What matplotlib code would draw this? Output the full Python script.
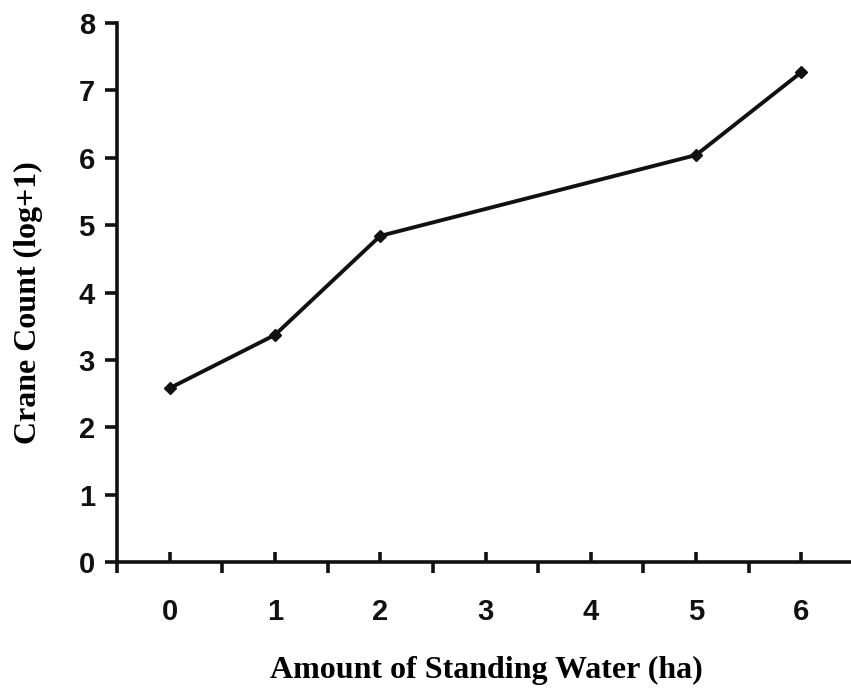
import numpy as np
import matplotlib.pyplot as plt

# data
water = [0, 1, 2, 5, 6]
cranes = [2.58, 3.37, 4.84, 6.04, 7.27]
xticks = [0, 1, 2, 3, 4, 5, 6]
yticks = [0, 1, 2, 3, 4, 5, 6, 7, 8]

fig = plt.figure(figsize=(8.51, 6.94), dpi=100)
ax = fig.add_axes([117/851, 1-562/694, (854-117)/851, (562-23)/694])

ax.plot(water, cranes, color='#111111', lw=2.8, marker='D', ms=6, solid_joinstyle='miter')

ax.set_xlim(-0.5, 6.5)
ax.set_ylim(0, 8)
for s in ['top', 'right']:
    ax.spines[s].set_visible(False)
ax.spines['left'].set_linewidth(2.6)
ax.spines['bottom'].set_linewidth(2.6)
ax.spines['left'].set_color('#111111')
ax.spines['bottom'].set_color('#111111')

tickfont = dict(family='Liberation Sans', weight='bold', size=21)
ax.set_yticks(yticks)
ax.set_yticklabels([str(v) for v in yticks], **tickfont)
ax.set_xticks(xticks)
ax.set_xticklabels([str(v) for v in xticks], **tickfont)
ax.tick_params(axis='y', direction='out', length=9, width=2.6, pad=7, colors='#111111')
ax.tick_params(axis='x', direction='in', length=7, width=2.6, pad=26, colors='#111111')
# category boundary ticks below the axis
ax.set_xticks(np.arange(-0.5, 6.5, 1), minor=True)
ax.tick_params(axis='x', which='minor', direction='out', length=8, width=2.6, colors='#111111')

labfont = dict(family='Liberation Serif', weight='bold', size=23)
fig.text(0.572, 1-670/694, 'Amount of Standing Water (ha)', ha='center', va='center', **labfont)
fig.text(28/851, 1-303/694, 'Crane Count (log+1)', ha='center', va='center', rotation=90, **labfont)

fig.savefig('out.png', dpi=100)
